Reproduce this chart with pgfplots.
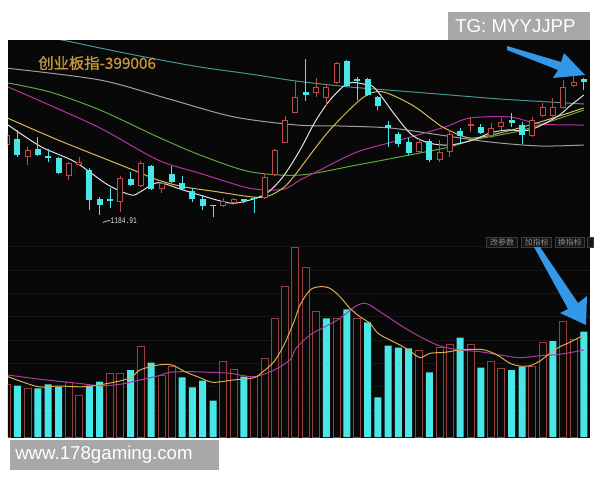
\documentclass[border=0pt]{standalone}
\usepackage{pgfplots}
\pgfplotsset{compat=1.18}
\usepackage{pgfplotstable}
\usepackage{fontspec}
\setmainfont{Liberation Sans}
\newfontfamily\cjk{Noto Sans CJK SC}
\newfontfamily\cjkt[FakeBold=0.8]{Noto Sans CJK SC}
\newfontfamily\monof{Liberation Mono}
\definecolor{bgc}{RGB}{8,8,8}
\definecolor{cyanc}{RGB}{72,230,230}
\definecolor{redc}{RGB}{190,75,75}
\definecolor{redv}{RGB}{150,62,62}
\definecolor{maw}{RGB}{225,225,225}
\definecolor{may}{RGB}{215,185,90}
\definecolor{mam}{RGB}{185,50,160}
\definecolor{mag}{RGB}{90,170,60}
\definecolor{magr}{RGB}{160,160,160}
\definecolor{mat}{RGB}{70,150,150}
\definecolor{vy}{RGB}{220,170,80}
\definecolor{vm}{RGB}{170,60,160}
\definecolor{gridc}{RGB}{22,22,22}
\definecolor{gold}{RGB}{200,150,60}
\definecolor{boxg}{RGB}{168,168,168}
\definecolor{arrowb}{RGB}{52,152,232}
\definecolor{btnfill}{RGB}{20,20,20}
\definecolor{btndraw}{RGB}{60,60,60}
\definecolor{btntext}{RGB}{140,140,140}

% up (red) candles: index, open, high, low, close (pixel price units)
\pgfplotstableread{
i o h l c
-1 95 107 93 105
1 82.7 92.7 75 90
5 64 78.3 60 77.3
6 75 82.7 74 78.3
10 38.3 64 28.3 61.7
12 54 79 52.7 76.7
14 50.7 60 46.7 57.3
20 34 41.7 33.3 39.3
21 36.7 41.7 35 40.7
24 41.7 66 40.7 63.3
25 65 90.7 64 90
26 97.3 124 96.7 120
27 126.7 159 126.7 143.3
29 146.7 162.3 143.3 153.3
30 142.3 155.7 135 153.3
31 157 178 156 176.7
39 88.3 101.7 86.7 97.7
41 80 100 78.3 88.3
42 88.3 110 83.3 106
44 114 123.3 108.3 116
46 104.5 116.7 101.7 111.7
47 113.3 122.3 110 118.5
50 104.3 123.3 103.3 120
51 124.3 136.7 123.3 133.3
52 124.3 141.7 123.3 133.3
53 131.7 160 131 153.3
54 154.3 165 153.3 158.3
}\uptab

% down (cyan) candles
\pgfplotstableread{
i o h l c
0 100.7 110 83 85
2 90.7 102.7 84 85
3 84 90.7 78.3 81.7
4 81.7 82.7 66 66.7
7 70 72.3 30 40
8 40.7 43.3 25 35
9 41.3 51.7 31.7 39.3
11 61 68.3 54 55
13 74.3 75 50 50.7
15 66 74 57.3 58.3
16 56.7 64 50 50.7
17 49.3 51.7 38.3 40.7
18 40.7 45 30 34
19 35.3 35.3 22.7 34
22 40.7 41.3 37.3 39.3
23 41.7 43.3 26.7 40.7
28 148.3 181 139 145
32 179 180 153 154
33 161 163 140 159
34 161 162 144 144.7
35 143.3 144.3 130 133.7
36 115.3 119 93.3 111.7
37 105.7 108.3 93.3 95.7
38 97.7 102.3 85 86.7
40 99 100.7 78.3 80
43 109 111.7 96.7 104.3
45 113.3 115.7 105.7 106.7
48 120.5 126.7 113.3 117.5
49 115.3 118.3 96 105
55 160.7 162.3 150 157.7
}\downtab

\begin{document}
\begin{tikzpicture}
\fill[white] (0,0) rectangle (450pt,360pt);
\fill[bgc] (6pt,31.5pt) rectangle (442.5pt,330pt);

% ---------- upper panel: candlesticks ----------
\begin{axis}[at={(6pt,183.75pt)}, anchor=south west, scale only axis,
  width=436.5pt, height=146.25pt,
  xmin=-0.903, xmax=55.602, ymin=5, ymax=200, hide axis, clip=true]
\addplot[mat, line width=0.75pt, smooth] coordinates {(1,206) (4.34,200) (8.03,192) (12.88,182) (17.74,173) (22.59,166) (27.06,159) (32.3,153) (37.16,149) (42.01,145) (46.86,141) (51.71,138) (55,136)};
\addplot[magr, line width=0.75pt, smooth] coordinates {(-0.9,171.7) (8.03,160) (14.5,141.7) (20.94,123.3) (27.13,115) (31.33,114) (36.19,112) (41.04,105) (45.89,98) (50.75,94) (55,95)};
\addplot[mag, line width=0.75pt, smooth] coordinates {(-0.9,157) (3.17,148) (8.03,130) (13.66,103) (17.74,85) (22.59,68.3) (27.45,65) (32.98,75) (41.52,92) (44.24,100) (49.1,110) (55,130)};
\addplot[mam, line width=0.75pt, smooth] coordinates {(-0.9,153) (2.01,140) (8.03,112) (13.66,80) (17.74,66.7) (22.59,51.7) (25.8,50.7) (27.45,60) (29.39,70) (32.98,88) (37.16,100) (41.52,113) (43.95,122) (47.83,123) (50.74,116) (55,115)};
\addplot[may, line width=0.75pt, smooth] coordinates {(-0.9,121.7) (3.95,100) (8.81,80) (11.24,70) (13.66,60) (16.09,53.3) (19.36,48.3) (22.59,43.3) (24.21,43.3) (25.8,52) (26.96,65) (30.17,108) (33.47,141.7) (35.41,148.3) (38.32,135) (40.55,118.3) (41.52,111.7) (43.95,102) (46.86,107) (50.75,118) (55,132)};
\addplot[maw, line width=0.75pt, smooth] coordinates {(-0.9,115) (2.3,93.3) (5.57,78.3) (8.81,55) (11.07,45) (11.91,48) (13.66,57.3) (16.09,50) (19.36,40) (20.94,36.7) (22.59,40) (24.21,46.7) (25.8,63.3) (27.45,90) (28.9,118) (30.36,140) (32.1,156.7) (33.76,155.7) (34.73,151.7) (36.67,125) (38.32,105) (40.07,96.7) (42.01,95) (44.24,100) (45.89,107) (47.54,110) (49.77,110) (52.4,123.3) (53.65,134) (55,145)};
% wicks
\addplot[draw=none, mark=none, error bars/.cd, y dir=plus, y explicit, error mark=none,
  error bar style={draw=redc, line width=0.75pt}]
  table[x=i, y=l, y error plus expr={\thisrow{h}-\thisrow{l}}] {\uptab};
\addplot[draw=none, mark=none, error bars/.cd, y dir=plus, y explicit, error mark=none,
  error bar style={draw=cyanc, line width=0.75pt}]
  table[x=i, y=l, y error plus expr={\thisrow{h}-\thisrow{l}}] {\downtab};
% bodies
\addplot[draw=none, mark=none, error bars/.cd, y dir=plus, y explicit, error mark=none,
  error bar style={draw=redc, line width=4.5pt}]
  table[x=i, y=o, y error plus expr={max(\thisrow{c}-\thisrow{o},1)}] {\uptab};
\addplot[draw=none, mark=none, error bars/.cd, y dir=plus, y explicit, error mark=none,
  error bar style={draw=bgc, line width=3pt}]
  table[x=i, y expr={\thisrow{o}+1}, y error plus expr={max(\thisrow{c}-\thisrow{o}-2,0)}] {\uptab};
\addplot[draw=none, mark=none, error bars/.cd, y dir=plus, y explicit, error mark=none,
  error bar style={draw=cyanc, line width=4.5pt}]
  table[x=i, y=c, y error plus expr={max(\thisrow{o}-\thisrow{c},1)}] {\downtab};
% low label
\draw[maw, line width=0.5pt] (axis cs:8.3,17.5) -- (axis cs:8.75,19.3) -- (axis cs:9.05,19.3);
\node[anchor=west, inner sep=0pt, text=maw, xscale=0.72] at (axis cs:9.05,19.8) {\monof\fontsize{6.5}{6.5}\selectfont 1184.91};
\end{axis}

% ---------- lower panel: volume ----------
\begin{axis}[at={(6pt,31.5pt)}, anchor=south west, scale only axis,
  width=436.5pt, height=151.5pt,
  xmin=-0.903, xmax=55.602, ymin=-1, ymax=201,
  axis line style={draw=none}, xtick=\empty,
  ytick={27,50.3,73.7,97,120.3,143.7,167,190.3}, yticklabels={},
  major tick length=0pt, ymajorgrids, grid style={draw=gridc, line width=0.75pt}, clip=true]
\addplot[ybar, bar width=5.25pt, bar shift=0pt, fill=cyanc, draw=none] coordinates {
(0,51.3) (2,48.7) (3,52.7) (4,50.3) (7,51.3) (8,55.3) (11,67) (13,74.3) (16,59.7) (17,49.7) (18,56.3) (19,36.3) (22,60.3) (30,118.7) (32,127.7) (34,114.7) (35,39.7) (36,91.3) (37,89.3) (38,88.7) (40,64.7) (43,99.3) (45,69.3) (48,67) (49,70.3) (52,96) (55,105.3)};
\addplot[ybar, bar width=5.25pt, bar shift=0pt, fill=bgc, draw=redv, line width=0.75pt] coordinates {
(-1,53) (1,48.7) (5,54.7) (6,42) (9,63.7) (10,63.7) (12,90.3) (14,61.3) (15,71) (20,76) (21,67.7) (23,60.3) (24,78.7) (25,118.7) (26,150.3) (27,189.3) (28,169.7) (29,125.3) (31,118.7) (33,118.7) (39,87) (41,89.3) (42,92.7) (44,92.7) (46,75.3) (47,68.7) (50,70.3) (51,94.3) (53,116) (54,98)};
\addplot[vm, line width=0.75pt, smooth] coordinates {(-0.9,62) (2.01,58) (5.89,53.7) (8.03,51.3) (9.98,52.7) (11.91,57) (13.37,60.3) (14.83,64.7) (16.77,65.3) (18.71,64.7) (20.65,63.7) (22.98,60.3) (24.92,67) (26.47,77) (27.06,88.7) (28.42,102) (29.88,110.3) (31.33,118.7) (32.78,130.3) (33.85,133.7) (35.21,125.3) (37.16,112) (39.1,100.3) (41.04,91) (42.98,87) (44.92,85.3) (46.86,82) (48.8,79.3) (50.74,81.3) (52.68,82.7) (55,87)};
\addplot[vy, line width=0.75pt, smooth] coordinates {(-0.9,60.3) (2.01,50.3) (3.95,51) (6.54,50.3) (9.0,54) (10.94,59) (11.91,67) (13.66,72) (15.02,72) (16.28,65.3) (17.74,59.3) (18.99,54.7) (20.94,57) (22.98,59.3) (23.85,65.3) (24.92,75.3) (25.89,92) (26.86,115.3) (27.45,132) (28.42,147) (29.39,150.3) (30.36,148.7) (31.33,140.3) (32.3,128.7) (33.27,120.3) (34.24,113.7) (35.02,103.7) (36.19,97) (37.16,92) (38.13,86) (39.1,79.3) (40.07,83.7) (41.52,84.7) (42.98,87) (44.92,87.7) (45.89,85.3) (46.86,80.3) (47.83,73.7) (48.8,71) (49.77,71.3) (50.74,76) (51.71,83.7) (52.68,90.3) (53.65,94.7) (55,102)};
\end{axis}

% ---------- overlays in pixel coordinates ----------
\begin{scope}[x=0.75pt, y=-0.75pt, yshift=360pt]
\node[anchor=west, inner sep=0pt, text=gold] at (38,63) {\cjkt\fontsize{11.5}{12}\selectfont 创业板指-399006};
% buttons
\foreach \xa/\xb/\t in {486.5/517.5/改参数, 521.5/551.5/加指标, 555/584.5/换指标}{
  \draw[fill=btnfill, draw=btndraw, line width=0.5pt] (\xa,237) rectangle (\xb,247.5);
  \node[inner sep=0pt, text=btntext] at ({(\xa+\xb)/2},242.3) {\cjk\fontsize{6}{6}\selectfont \t};
}
\draw[fill=btnfill, draw=btndraw, line width=0.5pt] (587,237) rectangle (593,247.5);
% arrows
\fill[arrowb] (507,46) -- (561,62) -- (564,53) -- (585,75) -- (553,78) -- (558,70) -- (507,50) -- cycle;
\fill[arrowb] (534,247) -- (540,247) -- (578,303) -- (587,296) -- (586,325) -- (560,313) -- (568,309) -- cycle;
% labels
\fill[boxg] (448,12) rectangle (590,40);
\node[anchor=west, inner sep=0pt, text=white] at (455,26.5) {\fontsize{14}{14}\selectfont TG: MYYJJPP};
\fill[boxg] (10,440) rectangle (219,470);
\node[anchor=west, inner sep=0pt, text=white] at (15,455) {\fontsize{14}{14}\selectfont www.178gaming.com};
\end{scope}
\pgfresetboundingbox
\path[use as bounding box] (0,0) rectangle (450pt,360pt);
\end{tikzpicture}
\end{document}
